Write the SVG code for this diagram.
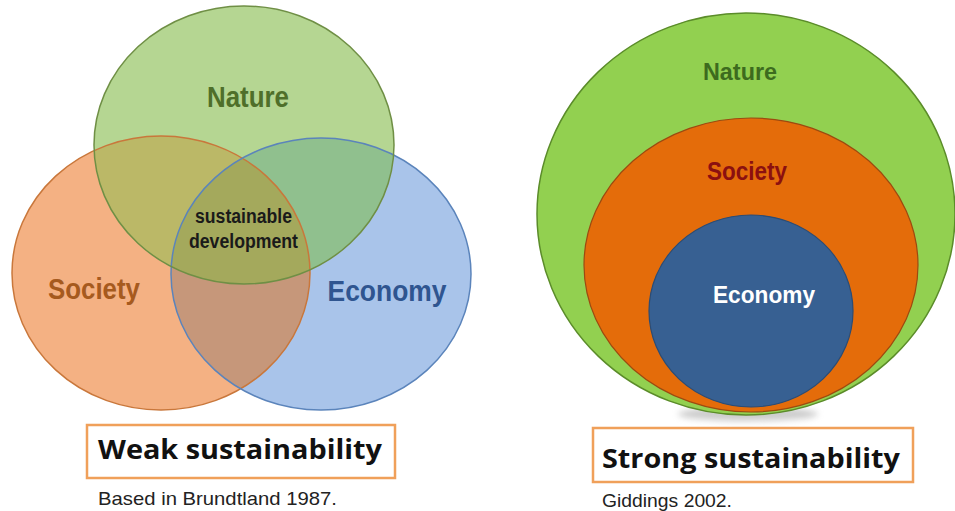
<svg xmlns="http://www.w3.org/2000/svg" width="955" height="511" viewBox="0 0 955 511">
  <style>
    .lbl { font-family: "Liberation Sans Narrow", "Liberation Sans", Arial, sans-serif; font-weight: bold; text-anchor: middle; }
    .title { font-family: "Open Sans", "Liberation Sans", sans-serif; font-weight: bold; fill: #111; }
    .src { font-family: "Liberation Sans Narrow", "Liberation Sans", Arial, sans-serif; fill: #222; }
    .box { fill: #ffffff; stroke: #f0a05a; stroke-width: 2.5; }
  </style>
  <defs>
    <clipPath id="clipSoc"><ellipse cx="161" cy="273" rx="149" ry="137"/></clipPath>
    <clipPath id="clipEco"><ellipse cx="321" cy="274" rx="150" ry="136"/></clipPath>
    <filter id="blur" x="-50%" y="-50%" width="200%" height="200%"><feGaussianBlur stdDeviation="3"/></filter>
  </defs>
  <rect width="955" height="511" fill="#ffffff"/>

  <!-- Weak sustainability Venn -->
  <g id="weak-venn">
    <g id="venn-fills">
      <ellipse cx="161" cy="273" rx="149" ry="137" fill="#f4b183"/>
      <ellipse cx="321" cy="274" rx="150" ry="136" fill="#a9c4ea"/>
      <ellipse cx="321" cy="274" rx="150" ry="136" fill="#c6977a" clip-path="url(#clipSoc)"/>
      <ellipse cx="244" cy="145" rx="150" ry="139" fill="#b5d692"/>
      <ellipse cx="244" cy="145" rx="150" ry="139" fill="#bbb867" clip-path="url(#clipSoc)"/>
      <ellipse cx="244" cy="145" rx="150" ry="139" fill="#90c08e" clip-path="url(#clipEco)"/>
      <g clip-path="url(#clipEco)">
        <ellipse cx="244" cy="145" rx="150" ry="139" fill="#a4a95c" clip-path="url(#clipSoc)"/>
      </g>
    </g>
    <g id="venn-society">
      <ellipse cx="161" cy="273" rx="149" ry="137" fill="none" stroke="#c9773b" stroke-width="1.5"/>
      <text class="lbl" x="94" y="299" font-size="30" fill="#a65a1e" textLength="92" lengthAdjust="spacingAndGlyphs">Society</text>
    </g>
    <g id="venn-economy">
      <ellipse cx="321" cy="274" rx="150" ry="136" fill="none" stroke="#5b84bb" stroke-width="1.5"/>
      <text class="lbl" x="387" y="301" font-size="30" fill="#2f5590" textLength="119" lengthAdjust="spacingAndGlyphs">Economy</text>
    </g>
    <g id="venn-nature">
      <ellipse cx="244" cy="145" rx="150" ry="139" fill="none" stroke="#6f8f45" stroke-width="1.5"/>
      <text class="lbl" x="248" y="107" font-size="30" fill="#4f6f2a" textLength="82" lengthAdjust="spacingAndGlyphs">Nature</text>
    </g>
    <g id="venn-center">
      <text class="lbl" x="243.5" y="223" font-size="20" fill="#1a1a1a" textLength="97" lengthAdjust="spacingAndGlyphs">sustainable</text>
      <text class="lbl" x="243.5" y="248" font-size="20" fill="#1a1a1a" textLength="109" lengthAdjust="spacingAndGlyphs">development</text>
    </g>
  </g>

  <!-- Strong sustainability nested -->
  <g id="strong-nested">
    <ellipse cx="748" cy="414" rx="70" ry="7" fill="#999" opacity="0.5" filter="url(#blur)"/>
    <g id="nest-nature">
      <ellipse cx="746" cy="214" rx="209" ry="201" fill="#92d050" stroke="#5b8c2a" stroke-width="1.5"/>
      <text class="lbl" x="740" y="80" font-size="24" fill="#3d6b1e" textLength="74" lengthAdjust="spacingAndGlyphs">Nature</text>
    </g>
    <g id="nest-society">
      <ellipse cx="751" cy="265" rx="167" ry="147" fill="#e46c0a" stroke="#9c4a10" stroke-width="1.2"/>
      <text class="lbl" x="747" y="180" font-size="25" fill="#8b1010" textLength="80" lengthAdjust="spacingAndGlyphs">Society</text>
    </g>
    <g id="nest-economy">
      <ellipse cx="751" cy="311" rx="102" ry="96" fill="#376092" stroke="#2b4c75" stroke-width="1.2"/>
      <text class="lbl" x="764" y="303" font-size="24" fill="#ffffff" textLength="102" lengthAdjust="spacingAndGlyphs">Economy</text>
    </g>
  </g>

  <!-- Captions -->
  <g id="weak-caption">
    <rect class="box" x="87" y="425" width="308" height="53"/>
    <text class="title" x="98" y="459" font-size="26" textLength="284" lengthAdjust="spacingAndGlyphs">Weak sustainability</text>
    <text class="src" x="98" y="505" font-size="19" textLength="239" lengthAdjust="spacingAndGlyphs">Based in Brundtland 1987.</text>
  </g>
  <g id="strong-caption">
    <rect class="box" x="593" y="428" width="320" height="54"/>
    <text class="title" x="602" y="468" font-size="26" textLength="298" lengthAdjust="spacingAndGlyphs">Strong sustainability</text>
    <text class="src" x="602" y="507" font-size="19" textLength="130" lengthAdjust="spacingAndGlyphs">Giddings 2002.</text>
  </g>
</svg>
